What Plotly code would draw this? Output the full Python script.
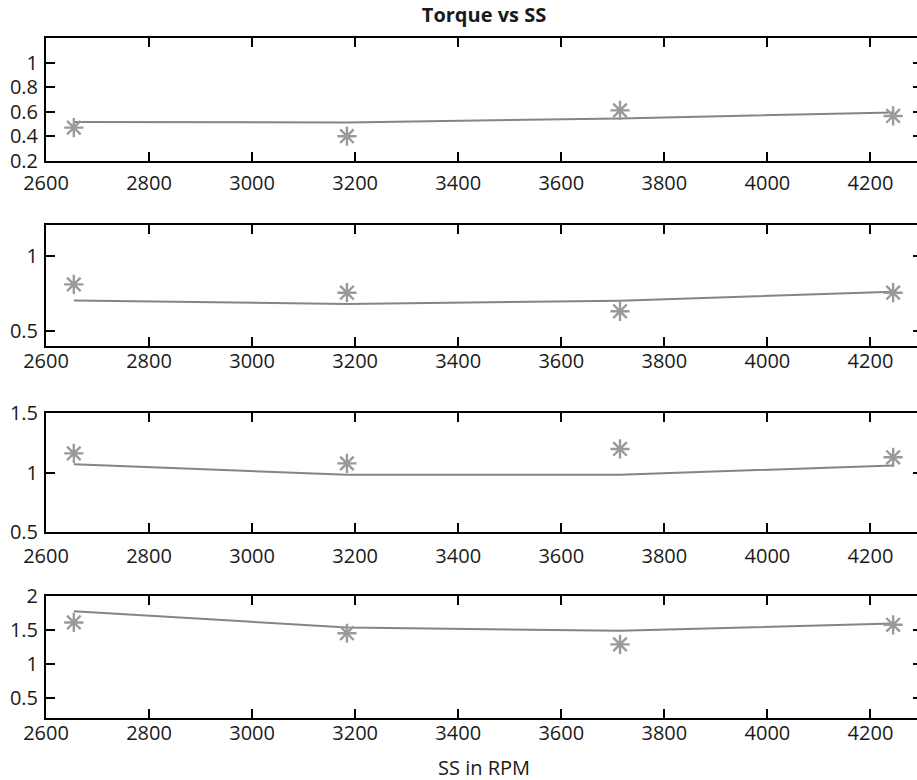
import plotly.graph_objects as go

# Shaft speed (RPM) at which each torque sample was taken
speed_rpm = [2654, 3184, 3714, 4244]

# Measured torque (asterisks) and fitted torque (line) for each of the four panels
measured = [
    [0.47, 0.40, 0.61, 0.565],
    [0.81, 0.755, 0.632, 0.755],
    [1.162, 1.078, 1.199, 1.129],
    [1.615, 1.455, 1.29, 1.58],
]
fitted = [
    [0.515, 0.512, 0.545, 0.594],
    [0.704, 0.68, 0.702, 0.761],
    [1.07, 0.983, 0.983, 1.061],
    [1.78, 1.54, 1.49, 1.60],
]

y_ranges = [[0.2, 1.2], [0.4, 1.2], [0.5, 1.5], [0.2, 2.0]]
y_ticks = [[0.2, 0.4, 0.6, 0.8, 1], [0.5, 1], [0.5, 1, 1.5], [0.5, 1, 1.5, 2]]
y_ticktext = [["0.2", "0.4", "0.6", "0.8", "1"], ["0.5", "1"], ["0.5", "1", "1.5"],
              ["0.5", "1", "1.5", "2"]]
x_ticks = [2600, 2800, 3000, 3200, 3400, 3600, 3800, 4000, 4200]

domains = [[0.8195, 1.0], [0.5465, 0.7244], [0.2729, 0.4485], [0.0, 0.1788]]
x_label_gap = [3, -4, 5, -4]

FONT = "Open Sans"
TEXT = "#1a1a1a"
fig = go.Figure()

for i in range(4):
    xa = "x" if i == 0 else f"x{i+1}"
    ya = "y" if i == 0 else f"y{i+1}"
    fig.add_trace(go.Scatter(
        x=speed_rpm, y=fitted[i], mode="lines",
        line=dict(color="#858585", width=2),
        xaxis=xa, yaxis=ya, showlegend=False, hoverinfo="skip"))
    fig.add_trace(go.Scatter(
        x=speed_rpm, y=measured[i], mode="markers",
        marker=dict(symbol="asterisk-open", size=16, color="#9a9a9a",
                    line=dict(color="#9a9a9a", width=2.4)),
        xaxis=xa, yaxis=ya, showlegend=False))

    axis_common = dict(
        showline=True, linecolor="black", linewidth=2,
        ticks="inside", ticklen=9, tickwidth=2, tickcolor="black",
        mirror="ticks", showgrid=False, zeroline=False,
        tickfont=dict(family=FONT, size=20, color=TEXT),
    )
    xkey = "xaxis" if i == 0 else f"xaxis{i+1}"
    ykey = "yaxis" if i == 0 else f"yaxis{i+1}"
    fig.layout[xkey] = dict(
        axis_common, domain=[0, 1], range=[2600, 4300],
        tickvals=x_ticks, anchor=ya, ticklabelstandoff=x_label_gap[i],
    )
    fig.layout[ykey] = dict(
        axis_common, domain=domains[i], range=y_ranges[i],
        tickvals=y_ticks[i], ticktext=y_ticktext[i], anchor=xa,
        ticklabelstandoff=2,
    )

fig.update_layout(
    width=926, height=780,
    margin=dict(l=46, r=2, t=38, b=62),
    paper_bgcolor="white", plot_bgcolor="white",
    font=dict(family=FONT, size=20, color=TEXT),
    title=dict(text="<b>Torque vs SS</b>", x=0.5, xanchor="center",
               xref="paper", y=1 - 15 / 780, yref="container", yanchor="middle",
               font=dict(family=FONT, size=20, color=TEXT)),
    annotations=[dict(text="SS in RPM", x=0.5, y=-0.0735, xref="paper", yref="paper",
                      xanchor="center", yanchor="middle", showarrow=False,
                      font=dict(family=FONT, size=20, color=TEXT))],
)

fig.write_html("out.html",
               post_script="document.body.style.overflow='hidden';"
                           "document.documentElement.style.overflow='hidden';")
